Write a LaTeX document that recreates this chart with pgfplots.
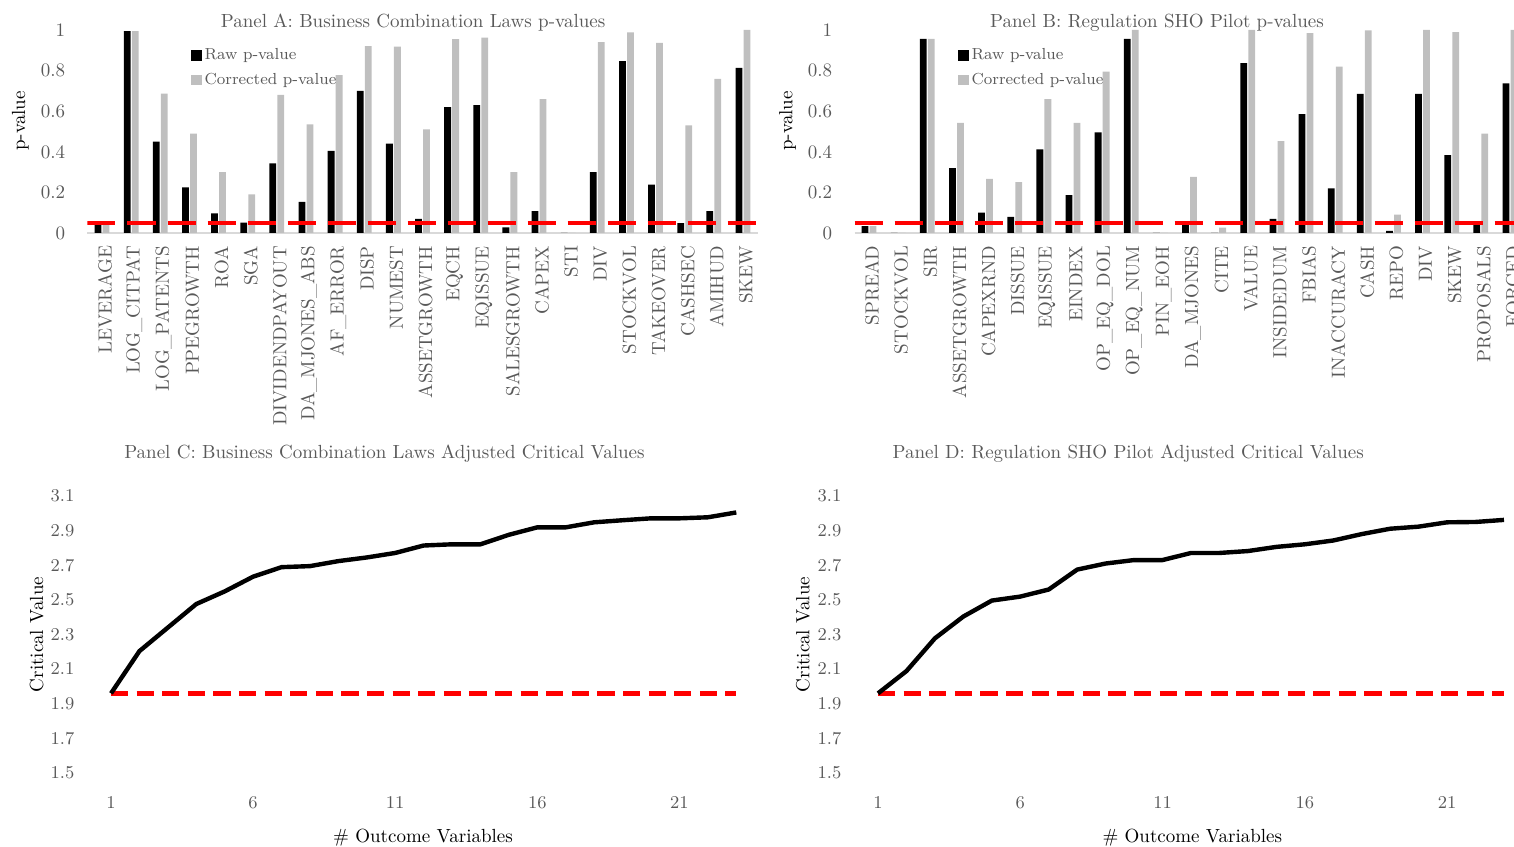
\documentclass[border=0pt]{standalone}
\usepackage{pgfplots}
\usepackage{pgfplotstable}
\pgfplotsset{compat=1.18}

\definecolor{txt}{HTML}{595959}
\definecolor{corrgray}{HTML}{BFBFBF}
\definecolor{basegray}{HTML}{D9D9D9}

% p-values, Business Combination Laws
\pgfplotstableread{
idx raw corr
0  0.044 0.044
1  0.995 0.995
2  0.450 0.686
3  0.225 0.490
4  0.097 0.300
5  0.051 0.190
6  0.343 0.680
7  0.153 0.535
8  0.405 0.778
9  0.700 0.920
10 0.440 0.918
11 0.069 0.510
12 0.620 0.955
13 0.630 0.963
14 0.028 0.300
15 0.108 0.660
16 0.000 0.000
17 0.300 0.940
18 0.847 0.988
19 0.238 0.936
20 0.049 0.530
21 0.108 0.759
22 0.814 1.000
}\bcl

% p-values, Regulation SHO Pilot
\pgfplotstableread{
idx raw corr
0  0.034 0.034
1  0.000 0.000
2  0.956 0.956
3  0.320 0.543
4  0.100 0.267
5  0.079 0.251
6  0.412 0.660
7  0.186 0.542
8  0.496 0.795
9  0.956 1.000
10 0.000 0.000
11 0.051 0.276
12 0.000 0.026
13 0.837 1.000
14 0.070 0.453
15 0.586 0.984
16 0.220 0.820
17 0.685 0.998
18 0.011 0.090
19 0.685 1.000
20 0.384 0.990
21 0.048 0.490
22 0.737 1.000
}\sho

% adjusted critical values
\pgfplotstableread{
n cvA cvB
1  1.960 1.960
2  2.204 2.089
3  2.340 2.278
4  2.476 2.404
5  2.549 2.496
6  2.634 2.519
7  2.689 2.560
8  2.695 2.675
9  2.724 2.710
10 2.745 2.730
11 2.771 2.730
12 2.814 2.771
13 2.821 2.771
14 2.821 2.782
15 2.876 2.806
16 2.919 2.821
17 2.919 2.843
18 2.948 2.880
19 2.960 2.911
20 2.971 2.923
21 2.971 2.948
22 2.977 2.950
23 3.005 2.962
}\crit

\pgfplotsset{
  every axis title shift=0pt,
  panel/.style={
    scale only axis,
    font=\fontsize{9.5}{11}\selectfont,
    every tick label/.append style={text=txt},
    major tick length=0pt,
    title style={text=txt, anchor=base},
    label style={text=txt},
  },
  barpanel/.style={
    panel,
    width=335pt, height=101.5pt,
    xmin=-0.5, xmax=22.5, ymin=0, ymax=1,
    axis x line*=bottom, axis y line*=left,
    x axis line style={draw=basegray, line width=0.8pt, -},
    y axis line style={draw=none},
    xtick={0,...,22},
    % shifts act in the rotated frame: xshift moves down, yshift moves right
    xticklabel style={rotate=90, anchor=east, xshift=-3pt, yshift=-1.5pt},
    ytick={0,0.2,0.4,0.6,0.8,1},
    yticklabels={0,0.2,0.4,0.6,0.8,1},
    yticklabel style={xshift=-7.7pt},
    ylabel={p-value},
    every axis y label/.style={at={(rel axis cs:-0.1,0.552)}, rotate=90, anchor=center},
    legend style={at={(rel axis cs:0.1545,0.922)}, anchor=north west,
      draw=none, fill=none, inner sep=0pt, text=txt,
      font=\fontsize{8}{9.5}\selectfont,
      nodes={inner sep=1.1pt}, row sep=3pt,
      cells={anchor=west}},
  },
  rawbar/.style={ybar, bar width=3.4pt, bar shift=-2pt, fill=black, draw=none,
    legend image code/.code={\fill[black] (0pt,-2.6pt) rectangle (5.5pt,2.6pt);}},
  corrbar/.style={ybar, bar width=3.4pt, bar shift=2pt, fill=corrgray, draw=none,
    legend image code/.code={\fill[corrgray] (0pt,-2.6pt) rectangle (5.5pt,2.6pt);}},
  alpha/.style={sharp plot, no marks, red, line width=2pt, dash pattern=on 14pt off 6pt, forget plot},
  linepanel/.style={
    panel,
    height=138.5pt,
    xmin=0.5, xmax=23.5, ymin=1.5, ymax=3.1,
    axis line style={draw=none},
    xtick={1,6,11,16,21}, xtick pos=bottom, ytick pos=left,
    ytick={1.5,1.7,1.9,2.1,2.3,2.5,2.7,2.9,3.1},
    yticklabel style={xshift=-7.7pt,
      /pgf/number format/.cd, fixed, fixed zerofill, precision=1},
    xticklabel style={yshift=-8.5pt},
    ylabel={Critical Value},
    xlabel={\# Outcome Variables},
  },
  cvline/.style={sharp plot, no marks, black, line width=2.2pt, line join=round},
  cvref/.style={sharp plot, no marks, red, line width=2.2pt, dash pattern=on 8.6pt off 4.2pt},
}

\begin{document}
\begin{tikzpicture}

% Panel A
\begin{axis}[barpanel, at={(43.75pt,306.5pt)}, anchor=south west,
  title={Panel A: Business Combination Laws p-values},
  title style={at={(rel axis cs:0.486,1)}, yshift=1pt},
  xticklabels={LEVERAGE,LOG\_CITPAT,LOG\_PATENTS,PPEGROWTH,ROA,SGA,DIVIDENDPAYOUT,DA\_MJONES\_ABS,AF\_ERROR,DISP,NUMEST,ASSETGROWTH,EQCH,EQISSUE,SALESGROWTH,CAPEX,STI,DIV,STOCKVOL,TAKEOVER,CASHSEC,AMIHUD,SKEW}]
\addplot[rawbar] table[x=idx, y=raw] {\bcl};
\addlegendentry{Raw p-value}
\addplot[corrbar] table[x=idx, y=corr] {\bcl};
\addlegendentry{Corrected p-value}
\addplot[alpha] coordinates {(-0.5,0.05) (22.5,0.05)};
\end{axis}

% Panel B
\begin{axis}[barpanel, at={(427.25pt,306.5pt)}, anchor=south west,
  title={Panel B: Regulation SHO Pilot p-values},
  title style={at={(rel axis cs:0.4515,1)}, yshift=1pt},
  xticklabels={SPREAD,STOCKVOL,SIR,ASSETGROWTH,CAPEXRND,DISSUE,EQISSUE,EINDEX,OP\_EQ\_DOL,OP\_EQ\_NUM,PIN\_EOH,DA\_MJONES,CITE,VALUE,INSIDEDUM,FBIAS,INACCURACY,CASH,REPO,DIV,SKEW,PROPOSALS,FORCED}]
\addplot[rawbar] table[x=idx, y=raw] {\sho};
\addlegendentry{Raw p-value}
\addplot[corrbar] table[x=idx, y=corr] {\sho};
\addlegendentry{Corrected p-value}
\addplot[alpha] coordinates {(-0.5,0.05) (22.5,0.05)};
\end{axis}

% Panel C
\begin{axis}[linepanel, width=326.85pt, at={(48.4pt,36.5pt)}, anchor=south west,
  title={Panel C: Business Combination Laws Adjusted Critical Values},
  title style={at={(rel axis cs:0.44,1)}, yshift=18.6pt},
  every axis y label/.style={at={(rel axis cs:-0.092,0.5)}, rotate=90, anchor=center},
  every axis x label/.style={at={(rel axis cs:0.499,0)}, yshift=-32.5pt, anchor=center}]
\addplot[cvref] coordinates {(1,1.96) (23,1.96)};
\addplot[cvline] table[x=n, y=cvA] {\crit};
\end{axis}

% Panel D
\begin{axis}[linepanel, width=327.2pt, at={(431.9pt,36.5pt)}, anchor=south west,
  title={Panel D: Regulation SHO Pilot Adjusted Critical Values},
  title style={at={(rel axis cs:0.404,1)}, yshift=18.6pt},
  every axis y label/.style={at={(rel axis cs:-0.093,0.5)}, rotate=90, anchor=center},
  every axis x label/.style={at={(rel axis cs:0.502,0)}, yshift=-32.5pt, anchor=center}]
\addplot[cvref] coordinates {(1,1.96) (23,1.96)};
\addplot[cvline] table[x=n, y=cvB] {\crit};
\end{axis}

\pgfresetboundingbox
\useasboundingbox (0,0) rectangle (757pt,423pt);
\end{tikzpicture}
\end{document}
